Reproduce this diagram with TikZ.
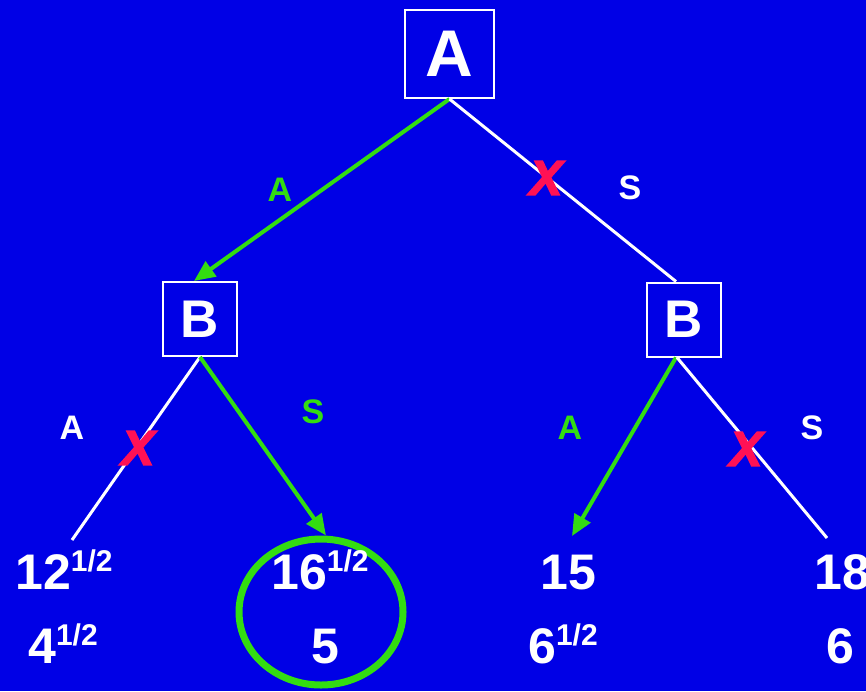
\documentclass[tikz,border=0pt]{standalone}
\usepackage{fontspec}
\setmainfont{Liberation Sans}
\newfontfamily\cutfont[BoldItalicFeatures={FakeBold=3.5}]{Liberation Sans}
\usepackage{tikz}
\usetikzlibrary{arrows.meta, positioning, shapes.geometric, calc}
\usepackage{xcolor}
\definecolor{slidebg}{HTML}{0000E6}
\definecolor{takegreen}{HTML}{33DD11}
\definecolor{cutred}{HTML}{FF1155}
\newcommand{\halfsup}{\raisebox{18pt}{\fontsize{30}{30}\selectfont 1/2}}

\begin{document}
\begin{tikzpicture}[x=1pt, y=-1pt,
    player/.style={draw=white, line width=2pt, text=white, inner sep=0pt,
      font=\bfseries\fontsize{53}{53}\selectfont},
    move/.style={font=\bfseries\fontsize{34}{34}\selectfont},
    payoff/.style={text=white, anchor=base, inner sep=0pt,
      font=\bfseries\fontsize{50}{50}\selectfont},
    cut/.style={text=cutred, inner sep=0pt, font=\cutfont\bfseries\itshape\fontsize{49}{49}\selectfont},
    chosen/.style={draw=takegreen, line width=4pt, -{Triangle[length=21pt, width=18pt]}},
    dropped/.style={draw=white, line width=3pt}]
    \fill[slidebg] (0,0) rectangle (866,691);
    \useasboundingbox (0,0) rectangle (866,691);
    % decision nodes
    \node[player, minimum width=89pt, minimum height=88pt, font=\bfseries\fontsize{66}{66}\selectfont] (root) at (449.5,54) {A};
    \node[player, minimum size=74pt] (bl) at (200,319) {B};
    \node[player, minimum size=74pt] (br) at (684,319.5) {B};
    % end points of the branches
    \coordinate (ll) at (72,540);
    \coordinate (rl) at (572,536);
    \coordinate (rr) at (827,538);
    \node[ellipse, draw=takegreen, line width=7pt, minimum width=164pt, minimum height=146pt] (pick) at (321,612) {};
    % branches
    \draw[chosen] (root.south) -- ([xshift=-6pt]bl.north);
    \draw[dropped] (root.south) -- ([xshift=-8pt]br.north);
    \draw[dropped] (bl.south) -- (ll);
    \draw[chosen] (bl.south) -- ([xshift=5pt]pick.north);
    \draw[chosen] ([xshift=-8pt]br.south) -- (rl);
    \draw[dropped] ([xshift=-7pt]br.south) -- (rr);
    % labels of the moves
    \node[move, text=takegreen] (mA1) at (280,190) {A};
    \node[move, text=white] (mS1) at (630,188) {S};
    \node[move, text=white] (mA2) at (72,428) {A};
    \node[move, text=takegreen] (mS2) at (313,412) {S};
    \node[move, text=takegreen] (mA3) at (570,428) {A};
    \node[move, text=white] (mS3) at (812,428) {S};
    \node[cut] (x1) at (546,178) {X};
    \node[cut] (x2) at (138,448) {X};
    \node[cut] (x3) at (746,449) {X};
    % payoffs
    \node[payoff] (p1a) at (64,589) {12\halfsup};
    \node[payoff] (p1b) at (63,663) {4\halfsup};
    \node[payoff] (p2a) at (320,589) {16\halfsup};
    \node[payoff] (p2b) at (325,663) {5};
    \node[payoff] (p3a) at (568,589) {15};
    \node[payoff] (p3b) at (563,663) {6\halfsup};
    \node[payoff] (p4a) at (842,589) {18};
    \node[payoff] (p4b) at (840,663) {6};
  \end{tikzpicture}
\end{document}
